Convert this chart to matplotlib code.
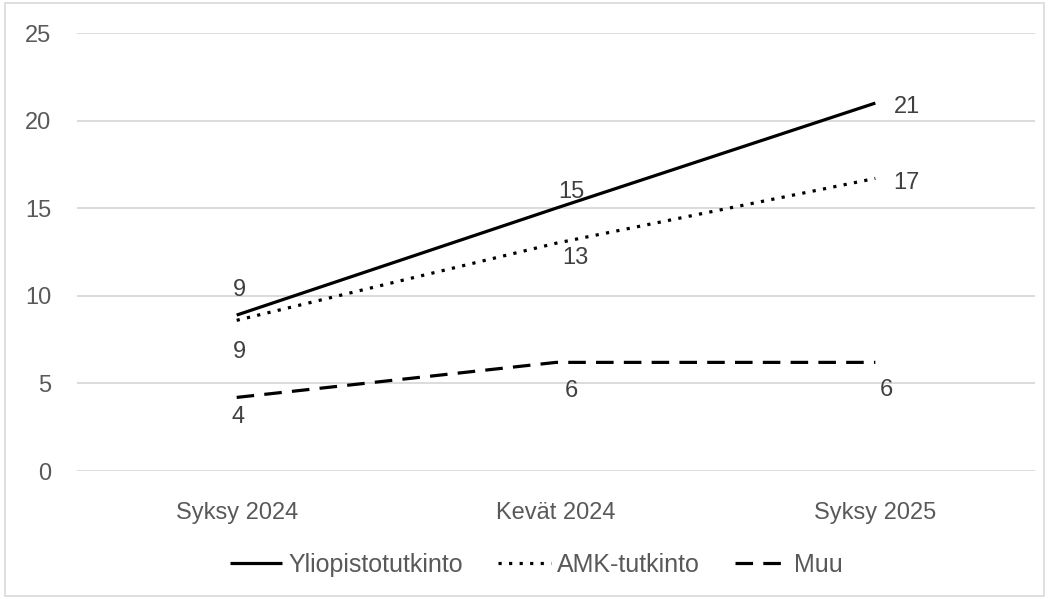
import matplotlib.pyplot as plt
from matplotlib.patches import Rectangle

# Data
kaudet = ['Syksy 2024', 'Kevät 2024', 'Syksy 2025']
yliopisto = [8.9, 15.0, 21.0]
amk = [8.6, 13.0, 16.7]
muu = [4.2, 6.2, 6.2]

plt.rcParams['font.family'] = ['Liberation Sans', 'DejaVu Sans']
narrow = ['Liberation Sans Narrow', 'Liberation Sans', 'DejaVu Sans']
tekstivari = '#595959'

fig = plt.figure(figsize=(10.49, 5.99), dpi=100)
ax = fig.add_axes([77 / 1049, 1 - 471 / 599, (1035 - 77) / 1049, (471 - 33) / 599])

x = list(range(len(kaudet)))
lw = 2.3
l1, = ax.plot(x, yliopisto, color='black', lw=lw, solid_capstyle='butt', label='Yliopistotutkinto')
l2, = ax.plot(x, amk, color='black', lw=lw, dashes=(1, 2.3), label='AMK-tutkinto')
l3, = ax.plot(x, muu, color='black', lw=lw, dashes=(5.5, 3.2), label='Muu')

# Arvojen tekstit (siirrot pisteinä)
lab = dict(fontsize=17, color='#404040', textcoords='offset points')
siirto_y = [(2, 10), (11, 4), (13, -3)]
siirto_a = [(2, -15), (14, -3), (13, -3)]
siirto_m = [(1, -6), (11, -13), (8, -12)]
for i, v in enumerate(yliopisto):
    ax.annotate(f'{v:.0f}', (i, v), xytext=siirto_y[i], ha='center' if i < 2 else 'left',
                va='bottom' if i < 2 else 'center', **lab)
for i, v in enumerate(amk):
    ax.annotate(f'{v:.0f}', (i, v), xytext=siirto_a[i], ha='center' if i < 2 else 'left',
                va='top' if i < 2 else 'center', **lab)
for i, v in enumerate(muu):
    ax.annotate(f'{v:.0f}', (i, v), xytext=siirto_m[i], ha='center', va='top', **lab)

ax.set_xlim(-0.5, 2.5)
ax.set_ylim(0, 25)
ax.set_yticks(range(0, 26, 5))
ax.set_xticks(x)
ax.set_xticklabels(kaudet, family=narrow, fontsize=17, color=tekstivari)
ax.tick_params(axis='y', labelsize=17, labelcolor=tekstivari, pad=18.5)
ax.tick_params(axis='both', length=0)
ax.tick_params(axis='x', pad=22)
ax.grid(axis='y', color='#d9d9d9', lw=1.3)
ax.set_axisbelow(True)
for s in ax.spines.values():
    s.set_visible(False)

leg = fig.legend(handles=[l1, l2, l3], loc='center', bbox_to_anchor=(536 / 1049, 1 - 565 / 599),
                 ncol=3, frameon=False, handlelength=2.1, handletextpad=0.25, columnspacing=1.4,
                 prop={'family': narrow, 'size': 18})
for t in leg.get_texts():
    t.set_color(tekstivari)

# Kehys
fig.patches.append(Rectangle((5 / 1049, 3 / 599), 1 - 10 / 1049, 1 - 6 / 599, transform=fig.transFigure,
                             fill=False, edgecolor='#d9d9d9', lw=1.2))

plt.savefig('out.png', dpi=100)
plt.close()
